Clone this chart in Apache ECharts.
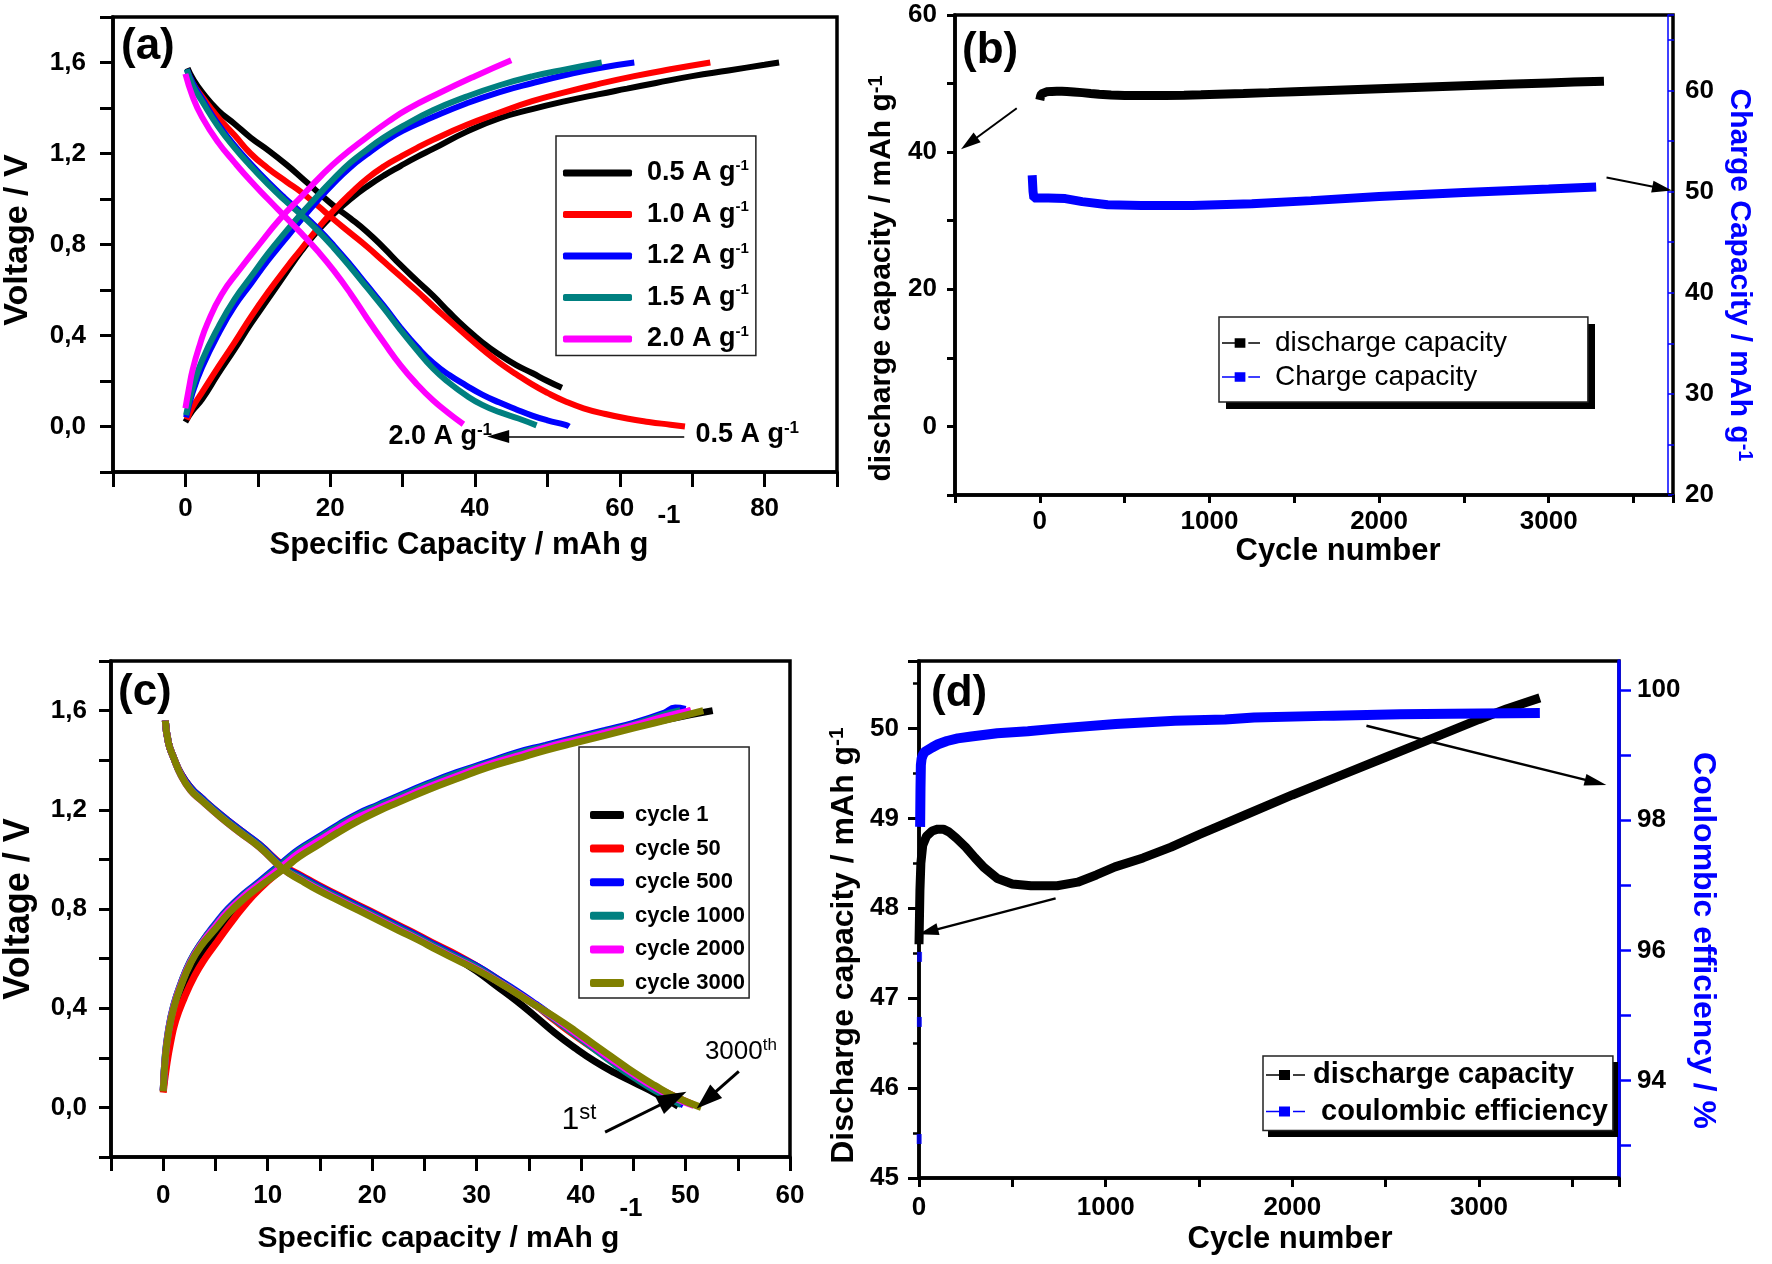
<!doctype html>
<html>
<head>
<meta charset="utf-8">
<title>Rate capability and cycling</title>
<style>
  html, body { margin: 0; padding: 0; background: #fff; }
  #main { width: 1772px; height: 1264px; }
</style>
</head>
<body>
<div id="main"></div>
<script src="https://cdn.jsdelivr.net/npm/echarts@6/dist/echarts.min.js"></script>
<script>
// ---- (a) charge / discharge curves at different current densities ----
var rateNames = ['0.5 A g-1', '1.0 A g-1', '1.2 A g-1', '1.5 A g-1', '2.0 A g-1'];
var rateColors = ['#000000', '#ff0000', '#0000ff', '#008080', '#ff00ff'];

var charge05 = [[0,0.02],[1,0.07],[2.3,0.12],[4.5,0.23],[6.8,0.34],[9,0.45],[11.4,0.56],[14,0.68],[16,0.77],[18,0.85],[20.5,0.935],[23,1.005],[25.1,1.055],[27.5,1.105],[29.7,1.145],[32,1.185],[34.2,1.22],[38.8,1.295],[43.4,1.355],[47.9,1.395],[52.5,1.43],[57,1.46],[61,1.485],[65,1.51],[70,1.54],[75,1.565],[80,1.59],[82,1.6]];
var charge10 = [[0.2,0.03],[1,0.085],[2.3,0.15],[4.5,0.26],[6.8,0.37],[9,0.48],[11.4,0.59],[14,0.7],[16,0.78],[18,0.86],[20.5,0.95],[23,1.03],[25.1,1.09],[27.5,1.145],[29.7,1.185],[32,1.225],[34.2,1.26],[38.8,1.325],[43.4,1.38],[47.9,1.43],[52.5,1.47],[57,1.505],[62,1.54],[67,1.57],[72.5,1.6]];
var charge12 = [[0.1,0.04],[1,0.15],[2.3,0.26],[4.6,0.41],[6.8,0.53],[9.1,0.63],[11.4,0.73],[13.7,0.82],[16,0.91],[18.3,0.995],[20.5,1.07],[22.8,1.14],[25,1.195],[27.4,1.25],[30,1.3],[34.2,1.36],[38.8,1.42],[43.4,1.47],[48,1.51],[52.5,1.545],[57,1.575],[62,1.6]];
var charge15 = [[0.1,0.05],[1,0.17],[2.3,0.29],[4.6,0.44],[6.8,0.56],[9.1,0.66],[11.4,0.76],[13.7,0.85],[16,0.935],[18.3,1.015],[20.5,1.09],[22.8,1.16],[25,1.215],[27.4,1.27],[30,1.32],[34.2,1.39],[38.8,1.45],[43.4,1.5],[48,1.54],[52.5,1.57],[57.5,1.6]];
var charge20 = [[0,0.08],[0.5,0.17],[1,0.25],[2,0.36],[3,0.45],[5,0.58],[7.5,0.69],[10.2,0.8],[13,0.91],[16,1.01],[18.7,1.1],[21.4,1.18],[25,1.27],[28,1.34],[30.7,1.395],[35,1.465],[40,1.54],[45,1.61]];

var discharge05 = [[0.3,1.575],[1,1.53],[2.3,1.47],[4.5,1.39],[6.8,1.33],[9,1.27],[11.4,1.215],[14,1.15],[16,1.095],[18.3,1.03],[20.5,0.97],[22.8,0.915],[25.1,0.855],[27.4,0.785],[29.7,0.71],[32,0.64],[34.2,0.575],[36.5,0.5],[38.8,0.43],[41,0.37],[43.4,0.315],[45.7,0.27],[47.9,0.235],[50,0.2],[52,0.17]];
var discharge10 = [[0.3,1.56],[1,1.51],[2.3,1.45],[4.5,1.36],[6.8,1.28],[9,1.2],[11.4,1.135],[14,1.075],[16,1.03],[18.3,0.97],[20.5,0.91],[22.8,0.85],[25.1,0.79],[27.4,0.725],[29.7,0.66],[32,0.595],[34.2,0.53],[36.5,0.465],[38.8,0.4],[41,0.34],[43.4,0.28],[45.7,0.23],[47.9,0.185],[50,0.148],[52.5,0.11],[55,0.08],[58,0.055],[61,0.035],[64,0.02],[67,0.008],[69,0]];
var discharge12 = [[0.2,1.57],[1,1.51],[2.3,1.44],[4.5,1.33],[6.8,1.235],[9,1.155],[11.4,1.075],[13.7,1.005],[16,0.94],[18.3,0.87],[20.5,0.795],[22.8,0.71],[25.1,0.62],[27.4,0.53],[29.7,0.435],[32,0.35],[34.2,0.28],[36.5,0.225],[38.8,0.18],[41,0.14],[43.4,0.105],[45.7,0.075],[47.9,0.048],[50,0.027],[52.5,0.007],[53,0]];
var discharge15 = [[0.2,1.57],[1,1.5],[2.3,1.43],[4.5,1.32],[6.8,1.225],[9,1.145],[11.4,1.065],[13.7,0.995],[16,0.93],[18.3,0.86],[20.5,0.785],[22.8,0.7],[25.1,0.61],[27.4,0.52],[29.7,0.425],[32,0.335],[34.2,0.255],[36.5,0.19],[38.8,0.136],[41,0.095],[43.4,0.063],[46,0.035],[48.5,0.005]];
var discharge20 = [[0,1.55],[1,1.45],[2.3,1.36],[4.5,1.25],[6.8,1.16],[9,1.08],[11.4,1.0],[13.7,0.925],[16,0.85],[18.3,0.77],[20.5,0.685],[22.8,0.585],[25.1,0.475],[27.4,0.37],[29.7,0.27],[32,0.185],[34.2,0.115],[36.3,0.06],[38.4,0.01]];

var rateCharge = [charge05, charge10, charge12, charge15, charge20];
var rateDischarge = [discharge05, discharge10, discharge12, discharge15, discharge20];

// ---- (c) charge / discharge curves for selected cycles ----
var cycleNames = ['cycle 1', 'cycle 50', 'cycle 500', 'cycle 1000', 'cycle 2000', 'cycle 3000'];
var cycleColors = ['#000000', '#ff0000', '#0000ff', '#008080', '#ff00ff', '#808000'];

var chgCycle1 = [[0,0.065],[0.2,0.18],[0.5,0.28],[1,0.37],[1.7,0.46],[2.6,0.55],[3.6,0.62],[5,0.7],[6.2,0.76],[7.7,0.83],[9.2,0.89],[11.5,0.97],[13,1.02],[14.9,1.07],[16.8,1.12],[18.7,1.16],[20.6,1.2],[22.5,1.235],[25.3,1.285],[28.1,1.33],[31,1.375],[33.8,1.41],[36.6,1.445],[39.4,1.475],[42.3,1.505],[45.1,1.535],[48.9,1.57],[52.6,1.6]];
var chgCycle50 = [[0,0.06],[0.3,0.16],[0.7,0.26],[1.2,0.35],[2,0.44],[3,0.53],[4,0.6],[5.2,0.67],[6.4,0.74],[7.7,0.81],[9.2,0.88],[11.5,0.965],[13,1.015],[14.9,1.07],[16.8,1.12],[18.7,1.165],[20.6,1.205],[22.5,1.24],[25.3,1.29],[28.1,1.335],[31,1.38],[33.8,1.415],[36.6,1.45],[39.4,1.48],[42.3,1.51],[45.1,1.54],[48.5,1.58],[50.5,1.6]];
var chgCycle500 = [[0,0.07],[0.2,0.21],[0.5,0.31],[1,0.41],[1.7,0.5],[2.6,0.59],[3.6,0.66],[5,0.74],[6.2,0.8],[7.7,0.86],[9.2,0.91],[11.5,0.99],[13,1.04],[14.9,1.09],[16.8,1.14],[18.7,1.185],[20.6,1.22],[22.5,1.255],[25.3,1.305],[28.1,1.35],[31,1.39],[33.8,1.43],[36.6,1.46],[39.4,1.49],[42.3,1.52],[45.1,1.55],[48,1.59],[49,1.61],[50,1.605]];
var chgCycle1000 = [[0,0.07],[0.2,0.21],[0.5,0.31],[1,0.41],[1.7,0.5],[2.6,0.59],[3.6,0.66],[5,0.735],[6.2,0.795],[7.7,0.855],[9.2,0.905],[11.5,0.985],[13,1.035],[14.9,1.085],[16.8,1.135],[18.7,1.18],[20.6,1.215],[22.5,1.25],[25.3,1.3],[28.1,1.345],[31,1.385],[33.8,1.425],[36.6,1.455],[39.4,1.485],[42.3,1.515],[45.1,1.545],[48.5,1.59],[49.5,1.6]];
var chgCycle2000 = [[0,0.068],[0.2,0.2],[0.5,0.305],[1,0.405],[1.7,0.495],[2.6,0.585],[3.6,0.655],[5,0.73],[6.2,0.79],[7.7,0.85],[9.2,0.9],[11.5,0.975],[13,1.025],[14.9,1.075],[16.8,1.125],[18.7,1.17],[20.6,1.205],[22.5,1.24],[25.3,1.29],[28.1,1.335],[31,1.38],[33.8,1.415],[36.6,1.45],[39.4,1.48],[42.3,1.51],[45.1,1.54],[48,1.575],[50.5,1.6]];
var chgCycle3000 = [[0,0.065],[0.2,0.2],[0.5,0.3],[1,0.4],[1.7,0.49],[2.6,0.58],[3.6,0.65],[5,0.72],[6.2,0.78],[7.7,0.84],[9.2,0.89],[11.5,0.96],[13,1.01],[14.9,1.06],[16.8,1.11],[18.7,1.155],[20.6,1.195],[22.5,1.23],[25.3,1.28],[28.1,1.325],[31,1.37],[33.8,1.405],[36.6,1.44],[39.4,1.47],[42.3,1.5],[45.1,1.53],[48.9,1.57],[51.7,1.6]];

var disCycle1 = [[0.2,1.56],[0.5,1.47],[1,1.41],[1.7,1.345],[2.6,1.29],[3.6,1.245],[5.5,1.175],[7.3,1.115],[9.2,1.055],[11.5,0.965],[13.2,0.92],[14.9,0.88],[16.8,0.84],[18.7,0.8],[20.6,0.76],[22.5,0.72],[24.4,0.68],[26.2,0.64],[28.1,0.6],[30,0.55],[31.9,0.49],[33.8,0.43],[35.7,0.364],[37.5,0.3],[39.4,0.24],[41.3,0.186],[43.2,0.14],[45.1,0.1],[47,0.06],[48.3,0.03],[49.3,0.005]];
var disCycle50 = [[0.2,1.56],[0.5,1.47],[1,1.41],[1.7,1.345],[2.6,1.29],[3.6,1.25],[5.5,1.18],[7.3,1.12],[9.2,1.06],[11.5,0.975],[13.2,0.935],[14.9,0.895],[16.8,0.855],[18.7,0.815],[20.6,0.775],[22.5,0.735],[24.4,0.695],[26.2,0.655],[28.1,0.615],[30,0.57],[31.9,0.52],[33.8,0.465],[35.7,0.41],[37.5,0.35],[39.4,0.29],[41.3,0.235],[43.2,0.18],[45.1,0.13],[47,0.085],[48.9,0.045],[50.8,0.01]];
var disCycle500 = [[0.2,1.56],[0.5,1.47],[1,1.41],[1.7,1.345],[2.6,1.29],[3.6,1.25],[5.5,1.18],[7.3,1.12],[9.2,1.06],[11.5,0.97],[13.2,0.93],[14.9,0.89],[16.8,0.85],[18.7,0.81],[20.6,0.77],[22.5,0.73],[24.4,0.69],[26.2,0.65],[28.1,0.61],[30,0.57],[31.9,0.52],[33.8,0.47],[35.7,0.415],[37.5,0.36],[39.4,0.3],[41.3,0.24],[43.2,0.18],[45.1,0.125],[47,0.075],[48.9,0.03],[49.8,0.01]];
var disCycle1000 = [[0.2,1.56],[0.5,1.47],[1,1.41],[1.7,1.34],[2.6,1.285],[3.6,1.245],[5.5,1.175],[7.3,1.115],[9.2,1.055],[11.5,0.965],[13.2,0.925],[14.9,0.885],[16.8,0.845],[18.7,0.805],[20.6,0.765],[22.5,0.725],[24.4,0.685],[26.2,0.645],[28.1,0.605],[30,0.565],[31.9,0.515],[33.8,0.465],[35.7,0.41],[37.5,0.355],[39.4,0.295],[41.3,0.235],[43.2,0.175],[45.1,0.12],[47,0.07],[48.9,0.028],[49.6,0.01]];
var disCycle2000 = [[0.2,1.56],[0.5,1.47],[1,1.41],[1.7,1.34],[2.6,1.28],[3.6,1.24],[5.5,1.17],[7.3,1.11],[9.2,1.05],[11.5,0.96],[13.2,0.918],[14.9,0.878],[16.8,0.838],[18.7,0.798],[20.6,0.758],[22.5,0.718],[24.4,0.678],[26.2,0.638],[28.1,0.598],[30,0.558],[31.9,0.512],[33.8,0.462],[35.7,0.41],[37.5,0.36],[39.4,0.302],[41.3,0.244],[43.2,0.186],[45.1,0.132],[47,0.082],[48.9,0.04],[50.8,0.008]];
var disCycle3000 = [[0.2,1.56],[0.5,1.47],[1,1.41],[1.7,1.34],[2.6,1.28],[3.6,1.24],[5.5,1.17],[7.3,1.11],[9.2,1.05],[11.5,0.96],[13.2,0.915],[14.9,0.874],[16.8,0.834],[18.7,0.794],[20.6,0.754],[22.5,0.714],[24.4,0.675],[26.2,0.635],[28.1,0.595],[30,0.555],[31.9,0.51],[33.8,0.46],[35.7,0.41],[37.5,0.364],[39.4,0.31],[41.3,0.252],[43.2,0.196],[45.1,0.14],[47,0.09],[48.9,0.045],[51.5,0]];

var cycleCharge = [chgCycle1, chgCycle50, chgCycle500, chgCycle1000, chgCycle2000, chgCycle3000];
var cycleDischarge = [disCycle1, disCycle50, disCycle500, disCycle1000, disCycle2000, disCycle3000];

// ---- (b), (d) long cycling ----
var cycleNo = [0,5,10,20,40,70,100,130,160,200,250,300,350,420,500,600,740,850,950,1050,1200,1350,1500,1750,2000,2250,2500,2750,3000,3150,3326];
var dischargeCap = [47.6,48.2,48.5,48.7,48.8,48.86,48.88,48.88,48.85,48.78,48.68,48.56,48.45,48.33,48.27,48.25,48.25,48.29,48.37,48.46,48.56,48.68,48.82,49.04,49.26,49.47,49.68,49.89,50.1,50.22,50.34];

var chargeCycleNo = [-45,-40,-35,0,50,150,250,400,600,900,1250,1600,2000,2500,3000,3280];
var chargeCap = [51.6,50.0,49.35,49.35,49.35,49.3,49.0,48.7,48.62,48.62,48.8,49.1,49.5,49.9,50.25,50.45];

var ceFirstCycleNo = [1,2,3,4,5];
var ceFirst = [93.1,94.9,95.9,96.6,97.4];
var ceCycleNo = [6,8,10,14,20,30,40,70,102,150,207,280,419,583,737,1054,1371,1640,1795,2220,2576,2850,3326];
var ceValue = [97.9,98.5,98.85,98.95,99.0,99.05,99.08,99.12,99.17,99.22,99.26,99.29,99.34,99.37,99.41,99.48,99.53,99.55,99.58,99.61,99.63,99.64,99.65];

var FONT = '"Liberation Sans", Arial, Helvetica, sans-serif';
var BLUE = '#0000ff';

function pairs(xs, ys) {
    return xs.map(function (x, i) { return [x, ys[i]]; });
}

function commaTick(v) {
    var r = Math.round(v * 10);
    return (r >= 0 && r % 4 === 0) ? (r / 10).toFixed(1).replace('.', ',') : '';
}

function supRich(size, supSize, weight, color, lineHeight) {
    return {
        t: { fontSize: size, fontWeight: weight, color: color, fontFamily: FONT, lineHeight: lineHeight },
        s: { fontSize: supSize, fontWeight: weight, color: color, fontFamily: FONT, lineHeight: supSize, verticalAlign: 'top' }
    };
}

function axisBase(o) {
    var a = {
        type: 'value',
        splitLine: { show: false },
        axisLine: { show: true, onZero: false, lineStyle: { color: '#000', width: 3.5 } },
        axisTick: { show: true, inside: false, length: o.tickLen, lineStyle: { color: '#000', width: 3 } },
        axisLabel: { margin: o.margin, fontSize: 26, fontWeight: 'bold', color: '#000', fontFamily: FONT, formatter: o.fmt },
        nameLocation: 'middle'
    };
    for (var k in o.extra) a[k] = o.extra[k];
    return a;
}

function arrow(from, to, size, width) {
    return [
        { coord: from, symbolSize: size, lineStyle: { color: '#000', width: width, type: 'solid' } },
        { coord: to, symbolSize: size }
    ];
}

function textMark(coord, text, rich) {
    return {
        coord: coord,
        symbol: 'circle',
        symbolSize: 1,
        itemStyle: { color: 'rgba(0,0,0,0)' },
        label: { show: true, position: 'inside', formatter: text, rich: rich }
    };
}

var series = [];

// (a)
rateNames.forEach(function (name, i) {
    [rateCharge[i], rateDischarge[i]].forEach(function (curve) {
        series.push({
            type: 'line', name: name, xAxisIndex: 0, yAxisIndex: 0,
            data: curve, symbol: 'none', smooth: 0.5,
            color: rateColors[i], lineStyle: { width: 6, color: rateColors[i] }, silent: true
        });
    });
});
series[0].markLine = {
    silent: true, symbol: ['none', 'triangle'], label: { show: false },
    data: [arrow([68.9, -0.044], [43.2, -0.044], [13, 22], 1.5)]
};
series[0].markPoint = {
    silent: true,
    data: [
        textMark([35.2, -0.045], '{t|2.0 A g}{s|-1}', supRich(27, 17, 'bold', '#000', 30)),
        textMark([77.6, -0.035], '{t|0.5 A g}{s|-1}', supRich(27, 17, 'bold', '#000', 30))
    ]
};

// (b)
series.push({
    type: 'line', name: 'discharge capacity', xAxisIndex: 1, yAxisIndex: 1,
    data: pairs(cycleNo, dischargeCap), symbol: 'none', color: '#000',
    lineStyle: { width: 9, color: '#000' }, silent: true,
    markLine: {
        silent: true, symbol: ['none', 'triangle'], label: { show: false },
        data: [
            arrow([-136, 46.4], [-417, 41.3], [12, 20], 2),
            arrow([3341, 36.3], [3669, 34.7], [12, 20], 2)
        ]
    }
});
series.push({
    type: 'line', name: 'Charge capacity', xAxisIndex: 1, yAxisIndex: 2,
    data: pairs(chargeCycleNo, chargeCap), symbol: 'none', color: BLUE,
    lineStyle: { width: 9, color: BLUE }, silent: true
});

// (c)
cycleNames.forEach(function (name, i) {
    [cycleCharge[i], cycleDischarge[i]].forEach(function (curve) {
        series.push({
            type: 'line', name: name, xAxisIndex: 2, yAxisIndex: 3,
            data: curve, symbol: 'none', smooth: 0.5,
            color: cycleColors[i], lineStyle: { width: 7, color: cycleColors[i] }, silent: true
        });
    });
});
series[series.length - 1].markLine = {
    silent: true, symbol: ['none', 'triangle'], label: { show: false },
    data: [
        arrow([55.1, 0.145], [52.0, 0.03], [18, 26], 3),
        arrow([42.3, -0.1], [48.8, 0.036], [20, 30], 3)
    ]
};
series[series.length - 1].markPoint = {
    silent: true,
    data: [
        textMark([55.3, 0.225], '{n|3000}{s|th}', {
            n: { fontSize: 26, color: '#000', fontFamily: FONT, lineHeight: 30 },
            s: { fontSize: 17, color: '#000', fontFamily: FONT, lineHeight: 17, verticalAlign: 'top' }
        }),
        textMark([39.8, -0.05], '{n|1}{s|st}', {
            n: { fontSize: 32, color: '#000', fontFamily: FONT, lineHeight: 36 },
            s: { fontSize: 22, color: '#000', fontFamily: FONT, lineHeight: 22, verticalAlign: 'top' }
        })
    ]
};

// (d)
series.push({
    type: 'line', name: 'discharge capacity', xAxisIndex: 3, yAxisIndex: 4,
    data: pairs(cycleNo, dischargeCap), symbol: 'none', color: '#000',
    lineStyle: { width: 9, color: '#000' }, silent: true,
    markLine: {
        silent: true, symbol: ['none', 'triangle'], label: { show: false },
        data: [
            arrow([732, 48.11], [50, 47.74], [12, 20], 2.5),
            arrow([2397, 50.03], [3625, 49.4], [12, 22], 2.5)
        ]
    }
});
series.push({
    type: 'line', name: 'coulombic efficiency', xAxisIndex: 3, yAxisIndex: 5,
    data: pairs(ceCycleNo, ceValue), symbol: 'none', color: BLUE,
    lineStyle: { width: 10, color: BLUE }, silent: true
});
series.push({
    type: 'scatter', name: 'first cycles', xAxisIndex: 3, yAxisIndex: 5,
    data: pairs(ceFirstCycleNo, ceFirst), symbol: 'rect', symbolSize: [5, 10],
    itemStyle: { color: BLUE }, silent: true
});

var legendIconB = 'path://M0,4.3H13V5.7H0ZM13,0H24V10H13ZM27,4.3H39V5.7H27Z';

var option = {
    animation: false,
    backgroundColor: '#fff',
    textStyle: { fontFamily: FONT },
    title: [
        { text: '(a)', left: 121, top: 25, padding: 0, textStyle: { fontSize: 44, fontWeight: 'bold', color: '#000', fontFamily: FONT } },
        { text: '(b)', left: 962, top: 29, padding: 0, textStyle: { fontSize: 44, fontWeight: 'bold', color: '#000', fontFamily: FONT } },
        { text: '(c)', left: 118, top: 671, padding: 0, textStyle: { fontSize: 44, fontWeight: 'bold', color: '#000', fontFamily: FONT } },
        { text: '(d)', left: 931, top: 672, padding: 0, textStyle: { fontSize: 44, fontWeight: 'bold', color: '#000', fontFamily: FONT } }
    ],
    grid: [
        { left: 113, top: 17, width: 724, height: 455, show: true, borderColor: '#000', borderWidth: 3.5 },
        { left: 955, top: 15, width: 718, height: 480, show: true, borderColor: '#000', borderWidth: 3.5 },
        { left: 109, top: 661, width: 681, height: 496, show: true, borderColor: '#000', borderWidth: 3.5 },
        { left: 919, top: 661, width: 700, height: 517, show: true, borderColor: '#000', borderWidth: 3.5 }
    ],
    xAxis: [
        axisBase({ tickLen: 15, margin: 24, fmt: function (v) { return (v >= 0 && v % 20 === 0) ? String(v) : ''; },
            extra: { gridIndex: 0, min: -10, max: 90, interval: 10, name: 'Specific Capacity / mAh g', nameGap: 58,
                nameTextStyle: { fontSize: 31, fontWeight: 'bold', color: '#000', padding: [0, 32, 0, 0] } } }),
        axisBase({ tickLen: 8, margin: 14, fmt: function (v) { return (v >= 0 && v <= 3000 && v % 1000 === 0) ? String(v) : ''; },
            extra: { gridIndex: 1, min: -500, max: 3733, interval: 500, name: 'Cycle number', nameGap: 36,
                nameTextStyle: { fontSize: 31, fontWeight: 'bold', color: '#000', padding: [0, 0, 0, 48] } } }),
        axisBase({ tickLen: 14, margin: 26, fmt: function (v) { return (v >= 0 && v % 10 === 0) ? String(v) : ''; },
            extra: { gridIndex: 2, min: -5, max: 60, interval: 5, name: 'Specific capacity / mAh g', nameGap: 67,
                nameTextStyle: { fontSize: 30, fontWeight: 'bold', color: '#000', padding: [0, 24, 0, 0] } } }),
        axisBase({ tickLen: 9, margin: 17, fmt: function (v) { return (v >= 0 && v <= 3000 && v % 1000 === 0) ? String(v) : ''; },
            extra: { gridIndex: 3, min: 0, max: 3750, interval: 500, name: 'Cycle number', nameGap: 46,
                nameTextStyle: { fontSize: 31, fontWeight: 'bold', color: '#000', padding: [0, 0, 0, 42] } } })
    ],
    yAxis: [
        axisBase({ tickLen: 13, margin: 27, fmt: commaTick,
            extra: { gridIndex: 0, min: -0.2, max: 1.8, interval: 0.2, name: 'Voltage / V', nameRotate: 90, nameGap: 78,
                nameTextStyle: { fontSize: 34, fontWeight: 'bold', color: '#000', padding: [0, 0, 0, 9] } } }),
        axisBase({ tickLen: 8, margin: 18, fmt: function (v) { return (v >= 0 && v % 20 === 0) ? String(v) : ''; },
            extra: { gridIndex: 1, min: -10, max: 60, interval: 10, name: '{t|discharge capacity / mAh g}{s|-1}', nameRotate: 90, nameGap: 57,
                nameTextStyle: { padding: [0, 47, 0, 0], rich: supRich(30, 20, 'bold', '#000', 32) } } }),
        axisBase({ tickLen: 6, margin: 17, fmt: function (v) { return (Math.abs(v % 10) < 1e-6) ? String(v) : ''; },
            extra: { gridIndex: 1, position: 'right', offset: -5, min: 20, max: 67.45, interval: 5,
                axisLine: { show: true, onZero: false, lineStyle: { color: BLUE, width: 1.5 } },
                axisTick: { show: true, length: 6, lineStyle: { color: BLUE, width: 1.5 } },
                name: '{t|Charge Capacity / mAh g}{s|-1}', nameRotate: -90, nameGap: 55,
                nameTextStyle: { padding: [0, 0, 0, 40], rich: supRich(30, 20, 'bold', BLUE, 32) } } }),
        axisBase({ tickLen: 12, margin: 24, fmt: commaTick,
            extra: { gridIndex: 2, min: -0.2, max: 1.8, interval: 0.2, name: 'Voltage / V', nameRotate: 90, nameGap: 74,
                nameTextStyle: { fontSize: 36, fontWeight: 'bold', color: '#000' } } }),
        axisBase({ tickLen: 11, margin: 20, fmt: function (v) { return Number.isInteger(v) ? String(v) : ''; },
            extra: { gridIndex: 3, min: 45, max: 50.75, interval: 1,
                minorTick: { show: true, splitNumber: 2, length: 6, lineStyle: { color: '#000', width: 2.5 } },
                name: '{t|Discharge capacity / mAh g}{s|-1}', nameRotate: 90, nameGap: 58,
                nameTextStyle: { padding: [0, 52, 0, 0], rich: supRich(32, 21, 'bold', '#000', 34) } } }),
        axisBase({ tickLen: 12, margin: 18, fmt: null,
            extra: { gridIndex: 3, position: 'right', min: 92.5, max: 100.45,
                axisLine: { show: true, onZero: false, lineStyle: { color: BLUE, width: 3.5 } },
                axisTick: { show: true, length: 12, customValues: [93, 94, 95, 96, 97, 98, 99, 100], lineStyle: { color: BLUE, width: 2.5 } },
                axisLabel: { margin: 18, fontSize: 26, fontWeight: 'bold', color: '#000', fontFamily: FONT, customValues: [94, 96, 98, 100] },
                name: 'Coulombic efficiency / %', nameRotate: -90, nameGap: 68,
                nameTextStyle: { fontSize: 32, fontWeight: 'bold', color: BLUE, padding: [0, 0, 0, 42] } } })
    ],
    legend: [
        {
            data: rateNames, orient: 'vertical', left: 556, top: 136, selectedMode: false,
            icon: 'roundRect', itemWidth: 69, itemHeight: 7, itemGap: 13,
            padding: [22, 7, 3, 7], borderColor: '#222', borderWidth: 1.5, backgroundColor: '#fff',
            formatter: function (n) { return '{t|' + n.replace(' g-1', ' g') + '}{s|-1}'; },
            textStyle: { padding: [0, 0, 0, 10], rich: supRich(27, 15, 'bold', '#000', 30) }
        },
        {
            data: ['discharge capacity', 'Charge capacity'], orient: 'vertical', left: 1219, top: 317, selectedMode: false,
            icon: legendIconB, itemWidth: 38, itemHeight: 10, itemGap: 4,
            padding: [11, 81, 10, 3], borderColor: '#222', borderWidth: 1.5, backgroundColor: '#fff',
            textStyle: { padding: [0, 0, 0, 10], fontSize: 28, color: '#000', fontFamily: FONT, lineHeight: 30 }
        },
        {
            data: cycleNames, orient: 'vertical', left: 579, top: 747, selectedMode: false,
            icon: 'roundRect', itemWidth: 34, itemHeight: 8, itemGap: 7.6,
            padding: [55, 4, 2, 11], borderColor: '#222', borderWidth: 1.5, backgroundColor: '#fff',
            textStyle: { padding: [0, 0, 0, 6], fontSize: 22, fontWeight: 'bold', color: '#000', fontFamily: FONT, lineHeight: 26 }
        },
        {
            data: ['discharge capacity', 'coulombic efficiency'], orient: 'vertical', left: 1263, top: 1056, selectedMode: false,
            icon: legendIconB, itemWidth: 39, itemHeight: 10, itemGap: 6.5,
            padding: [4, 5, 4, 3], borderColor: '#222', borderWidth: 1.5, backgroundColor: '#fff',
            formatter: function (n) { return n === 'coulombic efficiency' ? ' ' + n : n; },
            textStyle: { padding: [0, 0, 0, 3], fontSize: 29, fontWeight: 'bold', color: '#000', fontFamily: FONT, lineHeight: 30 }
        }
    ],
    graphic: [
        // drop shadows behind the (b) and (d) legend boxes
        { type: 'rect', z: 2, silent: true, shape: { x: 1226, y: 324, width: 369, height: 85 }, style: { fill: '#000' } },
        { type: 'rect', z: 2, silent: true, shape: { x: 1268, y: 1062, width: 350, height: 75 }, style: { fill: '#000' } },
        { type: 'text', x: 669, y: 516, silent: true,
          style: { text: '-1', font: 'bold 26px ' + FONT, fill: '#000', align: 'center', verticalAlign: 'middle' } },
        { type: 'text', x: 631, y: 1209, silent: true,
          style: { text: '-1', font: 'bold 26px ' + FONT, fill: '#000', align: 'center', verticalAlign: 'middle' } }
    ],
    series: series
};

var chart = echarts.init(document.getElementById('main'));
chart.setOption(option);
window.addEventListener('resize', function () {
    chart.resize();
});
</script>
</body>
</html>
